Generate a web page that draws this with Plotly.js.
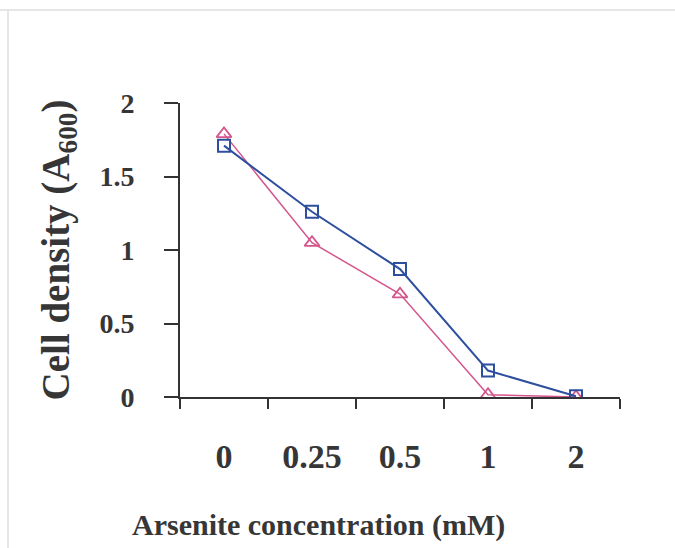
<!DOCTYPE html>
<html>
<head>
<meta charset="utf-8">
<script src="https://cdn.plot.ly/plotly-3.0.1.min.js"></script>
<style>html,body{margin:0;padding:0;background:#fff;}#chart{width:675px;height:548px;}</style>
</head>
<body>
<div id="chart"></div>
<script>
const concentrations = ["0", "0.25", "0.5", "1", "2"];
const seriesBlue = [1.71, 1.26, 0.87, 0.18, 0.005];
const seriesPink = [1.79, 1.05, 0.70, 0.015, 0.0];
const yTicks = [0, 0.5, 1, 1.5, 2];
const yTickText = ["0", "0.5", "1", "1.5", "2"];

const serif = "Liberation Serif, Times New Roman, serif";
const ink = "#363636";

const traces = [
  {
    x: concentrations, y: seriesPink, type: "scatter", mode: "lines+markers",
    name: "pink",
    line: {color: "#d4568c", width: 1.5},
    marker: {symbol: "triangle-up-open", size: 13, color: "#d4568c", line: {width: 1.8, color: "#d4568c"}}
  },
  {
    x: concentrations, y: seriesBlue, type: "scatter", mode: "lines+markers",
    name: "blue",
    line: {color: "#2d4f9e", width: 2},
    marker: {symbol: "square-open", size: 12, color: "#2d4f9e", line: {width: 2, color: "#2d4f9e"}}
  }
];

const layout = {
  width: 675, height: 548,
  margin: {l: 180, r: 55, t: 103, b: 151},
  paper_bgcolor: "#ffffff", plot_bgcolor: "#ffffff",
  showlegend: false,
  font: {family: serif, color: ink},
  xaxis: {
    type: "category", range: [-0.5, 4.5],
    showline: true, linecolor: "#333", linewidth: 2,
    ticks: "outside", ticklen: 10, tickwidth: 2, tickcolor: "#333",
    tickson: "boundaries",
    showgrid: false, zeroline: false,
    ticklabelstandoff: 28,
    tickfont: {family: serif, size: 34, color: ink, weight: "bold"}
  },
  yaxis: {
    range: [0, 2],
    tickvals: yTicks, ticktext: yTickText,
    showline: true, linecolor: "#333", linewidth: 2,
    ticks: "outside", ticklen: 14, tickwidth: 2, tickcolor: "#333",
    showgrid: false, zeroline: false,
    ticklabelstandoff: 24,
    tickfont: {family: serif, size: 28, color: ink, weight: "bold"},
    title: {text: "Cell density (A<sub>600</sub>)", standoff: 18,
            font: {family: serif, size: 39, color: ink, weight: "bold"}}
  },
  annotations: [
    {text: "Arsenite concentration (mM)", xref: "paper", yref: "paper",
     x: (318 - 180) / 440, y: -(525 - 397) / 294, xanchor: "center", yanchor: "middle",
     showarrow: false, font: {family: serif, size: 30, color: ink, weight: "bold"}}
  ],
  shapes: [
    {type: "line", xref: "paper", yref: "paper", x0: -180/440, x1: 1 + 55/440, y0: 1 + 93/294, y1: 1 + 93/294,
     line: {color: "#e6e6e6", width: 2}},
    {type: "line", xref: "paper", yref: "paper", x0: -172/440, x1: -172/440, y0: -151/294, y1: 1 + 93/294,
     line: {color: "#e6e6e6", width: 2}}
  ]
};

Plotly.newPlot("chart", traces, layout, {staticPlot: true, displayModeBar: false});
</script>
</body>
</html>
